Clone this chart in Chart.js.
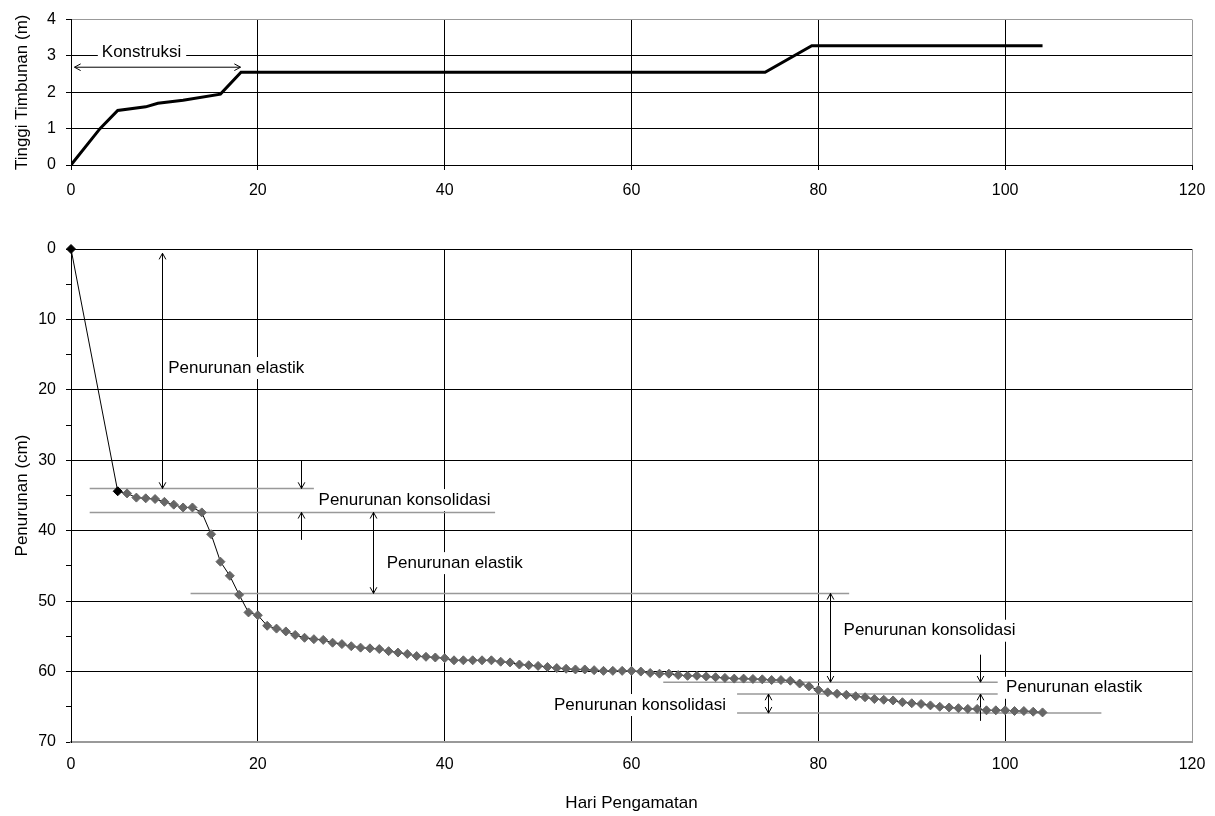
<!DOCTYPE html>
<html>
<head>
<meta charset="utf-8">
<title>Tinggi Timbunan dan Penurunan</title>
<script src="https://cdn.jsdelivr.net/npm/chart.js"></script>
<style>
  body { margin: 0; background: #fff; }
  #atas { position: absolute; left: 0; top: 0; }
  #bawah { position: absolute; left: 0; top: 210px; }
</style>
</head>
<body>
<canvas id="atas" width="1215" height="210"></canvas>
<canvas id="bawah" width="1215" height="606"></canvas>
<script>
// tinggi timbunan (m) terhadap hari
const hariTimbunan = [0, 3.1, 5, 8, 9.3, 12, 16, 18.2, 74.3, 79.3, 104];
const tinggiTimbunan = [0, 1.0, 1.5, 1.6, 1.7, 1.78, 1.95, 2.55, 2.55, 3.28, 3.28];

// penurunan (cm) terhadap hari
const hariPenurunan = [0, 5, 6, 7, 8, 9, 10, 11, 12, 13, 14, 15, 16, 17, 18, 19, 20,
  21, 22, 23, 24, 25, 26, 27, 28, 29, 30, 31, 32, 33, 34, 35, 36, 37, 38, 39, 40,
  41, 42, 43, 44, 45, 46, 47, 48, 49, 50, 51, 52, 53, 54, 55, 56, 57, 58, 59, 60,
  61, 62, 63, 64, 65, 66, 67, 68, 69, 70, 71, 72, 73, 74, 75, 76, 77, 78, 79, 80,
  81, 82, 83, 84, 85, 86, 87, 88, 89, 90, 91, 92, 93, 94, 95, 96, 97, 98, 99, 100,
  101, 102, 103, 104];
const penurunan = [0, 34.4, 34.7, 35.3, 35.4, 35.5, 35.9, 36.3, 36.7, 36.7, 37.4, 40.5, 44.4, 46.4, 49.1, 51.6, 52.0,
  53.5, 53.9, 54.3, 54.8, 55.2, 55.4, 55.5, 55.9, 56.1, 56.4, 56.6, 56.7, 56.8, 57.1, 57.3, 57.5, 57.8, 57.9, 58.0, 58.1,
  58.4, 58.4, 58.4, 58.4, 58.4, 58.6, 58.7, 59.0, 59.1, 59.2, 59.35, 59.5, 59.6, 59.7, 59.7, 59.8, 59.9, 59.9, 59.9, 59.9,
  60.0, 60.2, 60.3, 60.3, 60.5, 60.6, 60.6, 60.7, 60.8, 60.9, 61.0, 61.0, 61.05, 61.1, 61.2, 61.2, 61.3, 61.7, 62.1, 62.6,
  62.95, 63.15, 63.3, 63.5, 63.65, 63.9, 64.0, 64.1, 64.35, 64.5, 64.6, 64.8, 65.0, 65.1, 65.2, 65.3, 65.3, 65.5, 65.5, 65.5,
  65.6, 65.6, 65.7, 65.8];

// keterangan (dalam satuan data)
const panahAtas = [[0.3, 2.69, 18.1, 2.69, true, true]];
const teksAtas = [['Konstruksi', 3.3, 3.1]];

const garisBantu = [[2, 26, 34.0], [2, 45.4, 37.4], [12.8, 83.3, 48.9],
  [63.4, 99.2, 61.5], [71.3, 99.2, 63.2], [71.3, 110.3, 65.9]];
const panahBawah = [
  [9.75, 0.6, 9.75, 34.0, true, true],
  [24.65, 30.0, 24.65, 34.0, false, true],
  [24.65, 41.3, 24.65, 37.4, false, true],
  [32.3, 37.4, 32.3, 48.9, true, true],
  [81.3, 48.9, 81.3, 61.5, true, true],
  [97.3, 57.6, 97.3, 61.5, false, true],
  [97.3, 67.0, 97.3, 63.2, false, true],
  [74.6, 63.2, 74.6, 65.9, true, true]
];
const teksBawah = [
  ['Penurunan elastik', 10.4, 16.9],
  ['Penurunan konsolidasi', 26.5, 35.65],
  ['Penurunan elastik', 33.8, 44.6],
  ['Penurunan konsolidasi', 82.7, 54.2],
  ['Penurunan elastik', 100.1, 62.3],
  ['Penurunan konsolidasi', 51.7, 64.75]
];

const abu = '#999999';
const fontTeks = '17px "Liberation Sans", Arial, sans-serif';

Chart.defaults.font.family = '"Liberation Sans", Arial, sans-serif';
Chart.defaults.font.size = 16;
Chart.defaults.color = '#000';

function panah(c, x1, y1, x2, y2, awal, akhir) {
  c.beginPath(); c.moveTo(x1, y1); c.lineTo(x2, y2); c.stroke();
  const kepala = (tx, ty, fx, fy) => {
    const a = Math.atan2(ty - fy, tx - fx);
    c.beginPath();
    c.moveTo(tx - 7 * Math.cos(a - 0.5), ty - 7 * Math.sin(a - 0.5));
    c.lineTo(tx, ty);
    c.lineTo(tx - 7 * Math.cos(a + 0.5), ty - 7 * Math.sin(a + 0.5));
    c.stroke();
  };
  if (awal) kepala(x1, y1, x2, y2);
  if (akhir) kepala(x2, y2, x1, y1);
}

const catatan = {
  id: 'catatan',
  beforeDatasetsDraw(chart, args, opts) {
    const c = chart.ctx;
    const px = v => chart.scales.x.getPixelForValue(v);
    const py = v => chart.scales.y.getPixelForValue(v);
    const labels = opts.teks || [];
    c.save();
    c.font = fontTeks;
    c.fillStyle = '#fff';
    labels.forEach(l => {
      const w = c.measureText(l[0]).width;
      c.fillRect(px(l[1]) - 4, py(l[2]) - 11, w + 9, 22);
    });
    c.strokeStyle = abu;
    c.lineWidth = 1.5;
    (opts.garis || []).forEach(g => {
      c.beginPath();
      c.moveTo(px(g[0]), py(g[2]));
      c.lineTo(px(g[1]), py(g[2]));
      c.stroke();
    });
    c.strokeStyle = '#000';
    c.lineWidth = 1;
    (opts.panah || []).forEach(a => {
      const r = v => Math.round(v) + 0.5;
      panah(c, r(px(a[0])), py(a[1]), r(px(a[2])), py(a[3]), a[4], a[5]);
    });
    c.fillStyle = '#000';
    c.textBaseline = 'middle';
    labels.forEach(l => c.fillText(l[0], px(l[1]), py(l[2])));
    c.restore();
  }
};

function titik(xs, ys) {
  return xs.map((x, i) => ({ x: x, y: ys[i] }));
}

// grafik atas: tinggi timbunan
new Chart(document.getElementById('atas').getContext('2d'), {
  type: 'line',
  data: {
    datasets: [{
      data: titik(hariTimbunan, tinggiTimbunan),
      borderColor: '#000',
      borderWidth: 3,
      pointRadius: 0,
      tension: 0
    }]
  },
  options: {
    responsive: false,
    animation: false,
    layout: { padding: { top: 19, right: 23, left: 0, bottom: 0 } },
    plugins: {
      legend: { display: false },
      tooltip: { enabled: false },
      catatan: { panah: panahAtas, teks: teksAtas }
    },
    scales: {
      x: {
        type: 'linear', min: 0, max: 120,
        ticks: { stepSize: 20, padding: 11 },
        grid: {
          color: ctx => ctx.tick && ctx.tick.value === 120 ? abu : '#000',
          tickColor: '#000', tickLength: 5
        },
        border: { color: '#000' },
        afterFit: s => { s.height = 45; s.paddingLeft = 0; s.paddingRight = 0; }
      },
      y: {
        min: 0, max: 4,
        ticks: { stepSize: 1, padding: 10 },
        grid: {
          color: ctx => ctx.tick && ctx.tick.value === 4 ? abu : '#000',
          tickColor: '#000', tickLength: 5
        },
        border: { color: '#000' },
        title: { display: true, text: 'Tinggi Timbunan (m)', font: { size: 17 }, padding: { top: 12, bottom: 0 } },
        afterFit: s => { s.width = 71; }
      }
    }
  },
  plugins: [catatan]
});

// grafik bawah: penurunan
const warnaTitik = penurunan.map((v, i) => i < 2 ? '#000' : '#666');

new Chart(document.getElementById('bawah').getContext('2d'), {
  type: 'line',
  data: {
    datasets: [{
      data: titik(hariPenurunan, penurunan),
      borderColor: '#000',
      borderWidth: 1,
      pointStyle: 'rectRot',
      pointRadius: 4.5,
      pointBorderWidth: 1,
      pointBackgroundColor: warnaTitik,
      pointBorderColor: warnaTitik,
      tension: 0,
      clip: false
    }]
  },
  options: {
    responsive: false,
    animation: false,
    layout: { padding: { top: 39, right: 23, left: 0, bottom: 0 } },
    plugins: {
      legend: { display: false },
      tooltip: { enabled: false },
      catatan: { garis: garisBantu, panah: panahBawah, teks: teksBawah }
    },
    scales: {
      x: {
        type: 'linear', min: 0, max: 120,
        ticks: { stepSize: 20, padding: 13 },
        grid: {
          color: ctx => ctx.tick && ctx.tick.value === 120 ? abu : '#000',
          drawTicks: false
        },
        border: { color: abu, width: 2 },
        title: { display: true, text: 'Hari Pengamatan', font: { size: 17 }, padding: { top: 0, bottom: 2 } },
        afterFit: s => { s.height = 74; s.paddingLeft = 0; s.paddingRight = 0; }
      },
      y: {
        reverse: true, min: 0, max: 70,
        ticks: {
          stepSize: 2.5, padding: 10,
          callback: v => v % 10 === 0 ? v : ''
        },
        grid: {
          color: ctx => {
            const v = ctx.tick ? ctx.tick.value : 0;
            if (v === 70) return abu;
            return v % 10 === 0 ? '#000' : 'rgba(0,0,0,0)';
          },
          tickColor: '#000', tickLength: 5
        },
        border: { color: '#000' },
        title: { display: true, text: 'Penurunan (cm)', font: { size: 17 }, padding: { top: 12, bottom: 0 } },
        afterFit: s => { s.width = 71; }
      }
    }
  },
  plugins: [catatan]
});
</script>
</body>
</html>
